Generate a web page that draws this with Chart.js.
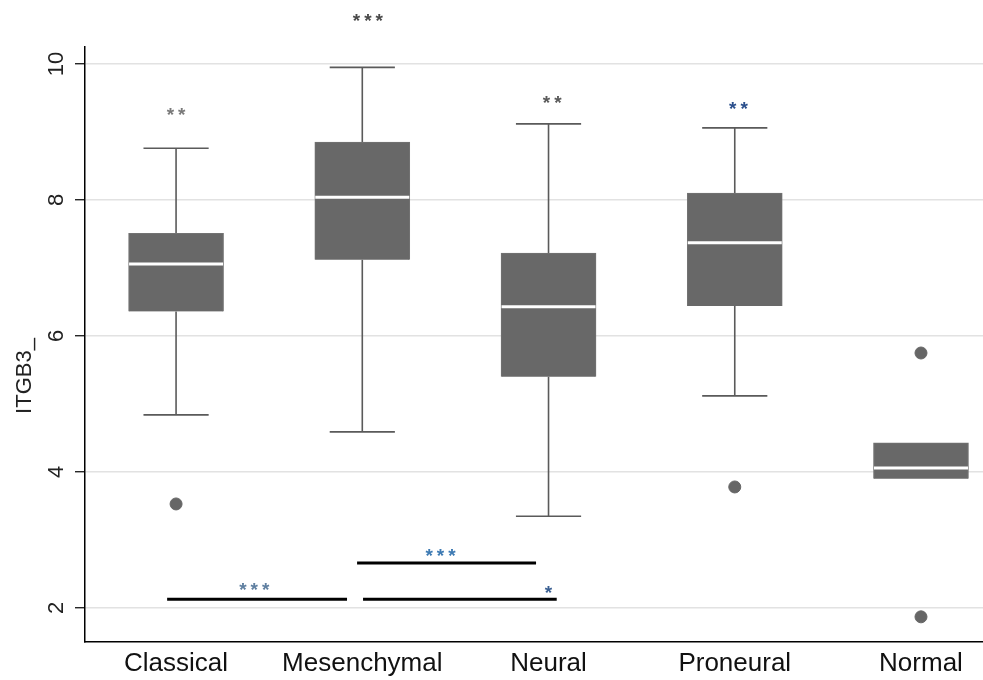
<!DOCTYPE html>
<html><head><meta charset="utf-8">
<script src="https://cdn.jsdelivr.net/npm/chart.js@4.4.1/dist/chart.umd.min.js"></script>
<style>html,body{margin:0;padding:0;background:#fff;}#wrap{width:983px;height:680px;}</style>
</head><body><div id="wrap"><canvas id="c" width="983" height="680"></canvas></div>
<script>
const categories = ["Classical","Mesenchymal","Neural","Proneural","Normal"];
const q1 = [6.36, 7.12, 5.40, 6.44, 3.90];
const medians = [7.06, 8.04, 6.43, 7.37, 4.06];
const q3 = [7.51, 8.85, 7.22, 8.10, 4.43];
const whiskerLow = [4.84, 4.59, 3.35, 5.12, 3.90];
const whiskerHigh = [8.76, 9.95, 9.12, 9.06, 4.43];
const outliers = [[1,3.53],[4,3.78],[5,5.75],[5,1.87]];
const yTicks = [2,4,6,8,10];
const starLabels = ["**","***","**","**","***","***","*"];
const starX = [1, 2.03, 3.02, 4.02, 1.42, 2.42, 3.0];
const starY = [9.32, 10.7, 9.5, 9.41, 2.34, 2.84, 2.29];
const starColors = ["#7a7a7a","#4a4a4a","#5a5a5a","#2b4f8c","#5f7fa0","#3d7ab3","#3a5f92"];
const bracketFrom = [0.952, 2.004, 1.972];
const bracketTo = [1.918, 3.044, 2.933];
const bracketY = [2.13, 2.13, 2.66];
const yTitle = "ITGB3_";

const boxData = categories.map((c,i)=>({x:i+1, y:[q1[i], q3[i]]}));
const outlierData = outliers.map(o=>({x:o[0], y:o[1]}));
const FONT = "'Liberation Sans', Arial, sans-serif";

const boxPlugin = {
  id:'boxExtras',
  beforeDatasetsDraw(chart){
    const {ctx, scales:{x,y}} = chart;
    ctx.save();
    ctx.strokeStyle = '#5a5a5a'; ctx.lineWidth = 1.6;
    const capHalf = x.getPixelForValue(1.175) - x.getPixelForValue(1);
    categories.forEach((c,i)=>{
      const cx = x.getPixelForValue(i+1);
      if (whiskerHigh[i] > q3[i]) {
        const yt = y.getPixelForValue(whiskerHigh[i]), yb = y.getPixelForValue(q3[i]);
        ctx.beginPath(); ctx.moveTo(cx,yb); ctx.lineTo(cx,yt);
        ctx.moveTo(cx-capHalf,yt); ctx.lineTo(cx+capHalf,yt); ctx.stroke();
      }
      if (whiskerLow[i] < q1[i]) {
        const yt = y.getPixelForValue(q1[i]), yb = y.getPixelForValue(whiskerLow[i]);
        ctx.beginPath(); ctx.moveTo(cx,yt); ctx.lineTo(cx,yb);
        ctx.moveTo(cx-capHalf,yb); ctx.lineTo(cx+capHalf,yb); ctx.stroke();
      }
    });
    ctx.restore();
  },
  afterDatasetsDraw(chart){
    const {ctx, scales:{x,y}} = chart;
    ctx.save();
    const half = 47;
    ctx.strokeStyle = '#ffffff'; ctx.lineWidth = 3;
    categories.forEach((c,i)=>{
      const cx = x.getPixelForValue(i+1), my = y.getPixelForValue(medians[i]);
      ctx.beginPath(); ctx.moveTo(cx-half,my); ctx.lineTo(cx+half,my); ctx.stroke();
    });
    ctx.strokeStyle = '#000'; ctx.lineWidth = 3;
    bracketFrom.forEach((f,i)=>{
      const yy = y.getPixelForValue(bracketY[i]);
      ctx.beginPath(); ctx.moveTo(x.getPixelForValue(f),yy); ctx.lineTo(x.getPixelForValue(bracketTo[i]),yy); ctx.stroke();
    });
    ctx.font = "bold 19px " + FONT; ctx.textAlign = 'center'; ctx.textBaseline = 'alphabetic';
    ctx.letterSpacing = '4px';
    starLabels.forEach((s,i)=>{
      ctx.fillStyle = starColors[i];
      ctx.fillText(s, x.getPixelForValue(starX[i]) + 2, y.getPixelForValue(starY[i]) + 11);
    });
    ctx.restore();
  },
  afterDraw(chart){
    const {ctx, scales:{y}} = chart;
    ctx.save();
    ctx.fillStyle = '#222';
    ctx.font = "22px " + FONT; ctx.textAlign = 'center'; ctx.textBaseline = 'middle';
    yTicks.forEach(v=>{
      const py = y.getPixelForValue(v);
      ctx.save(); ctx.translate(57, py); ctx.rotate(-Math.PI/2); ctx.fillText(String(v),0,0); ctx.restore();
    });
    ctx.font = "22px " + FONT;
    ctx.save(); ctx.translate(25, 376); ctx.rotate(-Math.PI/2); ctx.fillText(yTitle,0,0); ctx.restore();
    ctx.restore();
  }
};

new Chart(document.getElementById('c'), {
  type:'bar',
  data:{ datasets:[
    { type:'bar', data: boxData, backgroundColor:'#686868', borderColor:'#737373', borderWidth:1, barThickness:95, grouped:false, order:2 },
    { type:'scatter', data: outlierData, backgroundColor:'#666', borderColor:'#666', pointRadius:6, pointHoverRadius:6, order:1 }
  ]},
  options:{
    responsive:false, animation:false, devicePixelRatio:1,
    layout:{ autoPadding:false, padding:{ top:47, left:0, right:0, bottom:0 } },
    plugins:{ legend:{display:false}, tooltip:{enabled:false} },
    scales:{
      x:{ type:'linear', min:0.511, max:5.333, offset:false,
        afterBuildTicks(s){ s.ticks = categories.map((c,i)=>({value:i+1})); },
        afterFit(s){ s.height = 38; s.paddingLeft = 0; s.paddingRight = 0; },
        ticks:{ callback:(v)=>categories[Math.round(v)-1] || '', font:{size:26, family:FONT}, color:'#111', padding:6, maxRotation:0, autoSkip:false },
        grid:{ display:false, drawTicks:false },
        border:{ display:true, color:'#000', width:1.5 }
      },
      y:{ type:'linear', min:1.5, max:10.25,
        afterBuildTicks(s){ s.ticks = yTicks.map(v=>({value:v})); },
        afterFit(s){ s.width = 85; s.paddingTop = 0; s.paddingBottom = 0; },
        ticks:{ color:'rgba(0,0,0,0)', font:{size:12} },
        grid:{ color:'#e2e2e2', lineWidth:1.5, tickLength:10, tickColor:'#000', tickWidth:1.2 },
        border:{ display:true, color:'#000', width:1.5 }
      }
    }
  },
  plugins:[boxPlugin]
});
</script></body></html>
